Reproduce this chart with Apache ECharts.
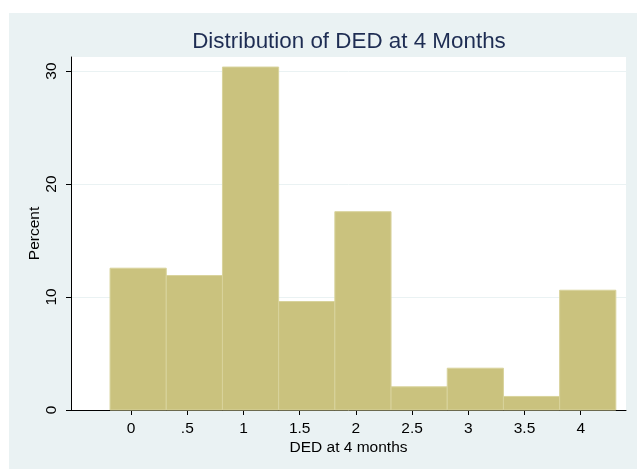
<!DOCTYPE html>
<html>
<head>
<meta charset="utf-8">
<script src="https://cdn.jsdelivr.net/npm/echarts@6/dist/echarts.min.js"></script>
<style>
html,body{margin:0;padding:0;background:#fff;}
#c{width:637px;height:469px;}
</style>
</head>
<body>
<div id="c"></div>
<script>
// Histogram bins (DED at 4 months), bin edges and percent heights
var binLeft  = [-0.1875, 0.3125, 0.8125, 1.3125, 1.8125, 2.3125, 2.8125, 3.3125, 3.8125];
var binRight = [ 0.3125, 0.8125, 1.3125, 1.8125, 2.3125, 2.8125, 3.3125, 3.8125, 4.3125];
var percent  = [12.55, 11.9, 30.35, 9.6, 17.55, 2.05, 3.7, 1.2, 10.6];
var xTicks   = [0, 0.5, 1, 1.5, 2, 2.5, 3, 3.5, 4];
var yTicks   = [0, 10, 20, 30];

var chart = echarts.init(document.getElementById('c'), null, {renderer: 'canvas'});
var font = 'Liberation Sans, Arial, Helvetica, sans-serif';
var data = binLeft.map(function (l, i) { return [l, binRight[i], percent[i]]; });

function fmtX(v) {
  var s = String(v);
  if (s.indexOf('0.') === 0) s = s.slice(1);
  return s;
}

chart.setOption({
  backgroundColor: '#ffffff',
  animation: false,
  graphic: {
    elements: [{
      type: 'rect', z: -100, silent: true,
      shape: {x: 9, y: 13, width: 628, height: 456},
      style: {fill: '#EAF2F3'}
    }, {
      type: 'text', z: 10, silent: true,
      x: 349, y: 42,
      style: {
        text: 'Distribution of DED at 4 Months',
        fontFamily: font, fontSize: 22.4, fill: '#1E2D53',
        align: 'center', verticalAlign: 'middle'
      }
    }]
  },
  grid: {
    left: 71, top: 57, right: 11, bottom: 59,
    show: true, backgroundColor: '#ffffff', borderWidth: 0
  },
  xAxis: {
    type: 'value',
    min: -0.535, max: 4.403,
    name: 'DED at 4 months',
    nameLocation: 'middle',
    nameGap: 30,
    nameMoveOverlap: false,
    nameTextStyle: {fontFamily: font, fontSize: 15.5, color: '#000'},
    axisLine: {show: true, onZero: false, lineStyle: {color: '#000', width: 1}},
    axisTick: {show: true, customValues: xTicks, length: 5, lineStyle: {color: '#000'}},
    axisLabel: {customValues: xTicks, formatter: fmtX, fontFamily: font, fontSize: 15.5, color: '#000', margin: 11},
    splitLine: {show: false}
  },
  yAxis: {
    type: 'value',
    min: 0, max: 31.24,
    name: 'Percent',
    nameLocation: 'middle',
    nameGap: 28,
    nameRotate: 90,
    nameMoveOverlap: false,
    nameTextStyle: {fontFamily: font, fontSize: 15.5, color: '#000'},
    axisLine: {show: true, onZero: false, lineStyle: {color: '#000', width: 1}},
    axisTick: {show: true, customValues: yTicks, length: 5, lineStyle: {color: '#000'}},
    axisLabel: {customValues: yTicks, rotate: 90, fontFamily: font, fontSize: 15.5, color: '#000', margin: 11},
    splitLine: {show: true, lineStyle: {color: '#EAF2F3', width: 1}}
  },
  series: [{
    type: 'custom',
    data: data,
    encode: {x: [0, 1], y: 2},
    renderItem: function (params, api) {
      var p0 = api.coord([api.value(0), 0]);
      var p1 = api.coord([api.value(1), api.value(2)]);
      return {
        type: 'rect',
        shape: {x: p0[0], y: p1[1], width: p1[0] - p0[0], height: p0[1] - p1[1]},
        style: {fill: '#CAC27E', stroke: '#D8D39C', lineWidth: 1}
      };
    }
  }]
});
</script>
</body>
</html>
